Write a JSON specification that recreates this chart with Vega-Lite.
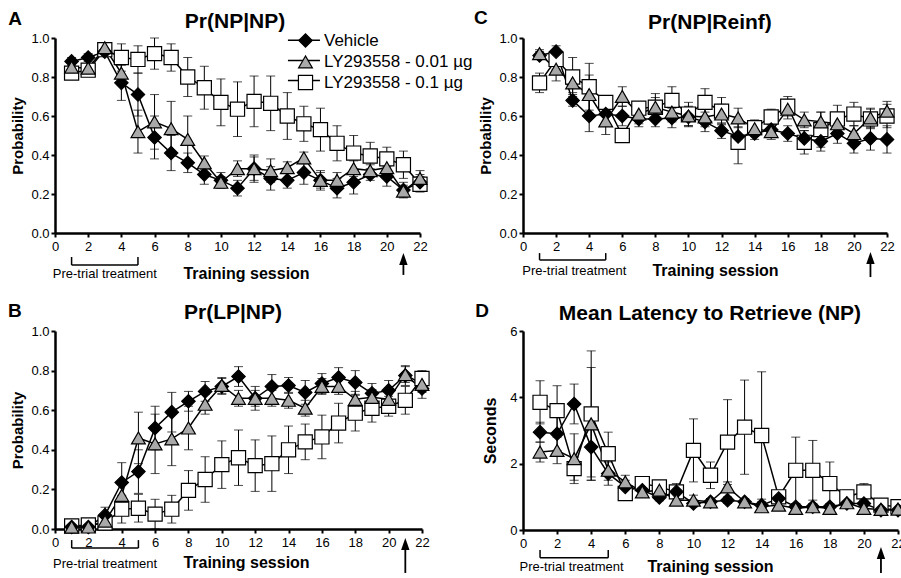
{
"$schema": "https://vega.github.io/schema/vega-lite/v6.json",
"background": "white",
"padding": {"left": 8, "top": 8, "right": 0, "bottom": 0},
"columns": 2,
"bounds": "flush",
"align": "each",
"spacing": {"row": 98, "column": 101},
"resolve": {"scale": {"x": "independent", "y": "independent"}, "axis": {"x": "independent", "y": "independent"}, "legend": {"shape": "independent", "fill": "independent", "size": "independent", "stroke": "independent"}},
"config": {
  "view": {"stroke": null},
  "font": "Liberation Sans",
  "axis": {"domainColor": "black", "domainWidth": 2.5, "tickColor": "black", "tickWidth": 2, "tickSize": 4, "labelColor": "black", "labelFontSize": 13, "labelFont": "Liberation Sans", "titleColor": "black", "titleFont": "Liberation Sans", "titleFontWeight": "bold", "grid": false, "labelPadding": 2, "labelFlush": false, "labelOverlap": false},
  "axisX": {"titleFontSize": 16, "labelAngle": 0, "titleBaseline": "alphabetic", "labelPadding": 3},
  "axisY": {"titleFontSize": 15, "titlePadding": 5},
  "text": {"font": "Liberation Sans", "color": "black"}
},
"datasets": {
"note": [{"note": "annotation"}],
"A": [
{"group":"LY293558 - 0.1 µg","session":1,"value":0.82,"sem":0.02},
{"group":"LY293558 - 0.1 µg","session":2,"value":0.835,"sem":0.02},
{"group":"LY293558 - 0.1 µg","session":3,"value":0.94,"sem":0.03},
{"group":"LY293558 - 0.1 µg","session":4,"value":0.90,"sem":0.07},
{"group":"LY293558 - 0.1 µg","session":5,"value":0.89,"sem":0.07},
{"group":"LY293558 - 0.1 µg","session":6,"value":0.92,"sem":0.08},
{"group":"LY293558 - 0.1 µg","session":7,"value":0.90,"sem":0.07},
{"group":"LY293558 - 0.1 µg","session":8,"value":0.80,"sem":0.10},
{"group":"LY293558 - 0.1 µg","session":9,"value":0.745,"sem":0.11},
{"group":"LY293558 - 0.1 µg","session":10,"value":0.67,"sem":0.12},
{"group":"LY293558 - 0.1 µg","session":11,"value":0.635,"sem":0.14},
{"group":"LY293558 - 0.1 µg","session":12,"value":0.675,"sem":0.13},
{"group":"LY293558 - 0.1 µg","session":13,"value":0.665,"sem":0.14},
{"group":"LY293558 - 0.1 µg","session":14,"value":0.60,"sem":0.12},
{"group":"LY293558 - 0.1 µg","session":15,"value":0.56,"sem":0.09},
{"group":"LY293558 - 0.1 µg","session":16,"value":0.53,"sem":0.11},
{"group":"LY293558 - 0.1 µg","session":17,"value":0.46,"sem":0.09},
{"group":"LY293558 - 0.1 µg","session":18,"value":0.41,"sem":0.09},
{"group":"LY293558 - 0.1 µg","session":19,"value":0.395,"sem":0.07},
{"group":"LY293558 - 0.1 µg","session":20,"value":0.38,"sem":0.06},
{"group":"LY293558 - 0.1 µg","session":21,"value":0.35,"sem":0.07},
{"group":"LY293558 - 0.1 µg","session":22,"value":0.25,"sem":0.04},
{"group":"Vehicle","session":1,"value":0.88,"sem":0.02},
{"group":"Vehicle","session":2,"value":0.90,"sem":0.02},
{"group":"Vehicle","session":3,"value":0.93,"sem":0.02},
{"group":"Vehicle","session":4,"value":0.77,"sem":0.09},
{"group":"Vehicle","session":5,"value":0.71,"sem":0.11},
{"group":"Vehicle","session":6,"value":0.49,"sem":0.11},
{"group":"Vehicle","session":7,"value":0.41,"sem":0.09},
{"group":"Vehicle","session":8,"value":0.36,"sem":0.05},
{"group":"Vehicle","session":9,"value":0.30,"sem":0.05},
{"group":"Vehicle","session":10,"value":0.27,"sem":0.04},
{"group":"Vehicle","session":11,"value":0.23,"sem":0.04},
{"group":"Vehicle","session":12,"value":0.33,"sem":0.06},
{"group":"Vehicle","session":13,"value":0.28,"sem":0.06},
{"group":"Vehicle","session":14,"value":0.27,"sem":0.04},
{"group":"Vehicle","session":15,"value":0.31,"sem":0.06},
{"group":"Vehicle","session":16,"value":0.27,"sem":0.05},
{"group":"Vehicle","session":17,"value":0.23,"sem":0.05},
{"group":"Vehicle","session":18,"value":0.26,"sem":0.06},
{"group":"Vehicle","session":19,"value":0.30,"sem":0.03},
{"group":"Vehicle","session":20,"value":0.29,"sem":0.05},
{"group":"Vehicle","session":21,"value":0.22,"sem":0.04},
{"group":"Vehicle","session":22,"value":0.26,"sem":0.04},
{"group":"LY293558 - 0.01 µg","session":1,"value":0.85,"sem":0.02},
{"group":"LY293558 - 0.01 µg","session":2,"value":0.845,"sem":0.02},
{"group":"LY293558 - 0.01 µg","session":3,"value":0.95,"sem":0.02},
{"group":"LY293558 - 0.01 µg","session":4,"value":0.82,"sem":0.06},
{"group":"LY293558 - 0.01 µg","session":5,"value":0.52,"sem":0.11},
{"group":"LY293558 - 0.01 µg","session":6,"value":0.57,"sem":0.14},
{"group":"LY293558 - 0.01 µg","session":7,"value":0.535,"sem":0.14},
{"group":"LY293558 - 0.01 µg","session":8,"value":0.48,"sem":0.12},
{"group":"LY293558 - 0.01 µg","session":9,"value":0.36,"sem":0.035},
{"group":"LY293558 - 0.01 µg","session":10,"value":0.26,"sem":0.03},
{"group":"LY293558 - 0.01 µg","session":11,"value":0.33,"sem":0.04},
{"group":"LY293558 - 0.01 µg","session":12,"value":0.33,"sem":0.07},
{"group":"LY293558 - 0.01 µg","session":13,"value":0.32,"sem":0.06},
{"group":"LY293558 - 0.01 µg","session":14,"value":0.335,"sem":0.03},
{"group":"LY293558 - 0.01 µg","session":15,"value":0.385,"sem":0.03},
{"group":"LY293558 - 0.01 µg","session":16,"value":0.27,"sem":0.04},
{"group":"LY293558 - 0.01 µg","session":17,"value":0.27,"sem":0.04},
{"group":"LY293558 - 0.01 µg","session":18,"value":0.33,"sem":0.04},
{"group":"LY293558 - 0.01 µg","session":19,"value":0.32,"sem":0.03},
{"group":"LY293558 - 0.01 µg","session":20,"value":0.335,"sem":0.03},
{"group":"LY293558 - 0.01 µg","session":21,"value":0.215,"sem":0.03},
{"group":"LY293558 - 0.01 µg","session":22,"value":0.28,"sem":0.04}
],
"B": [
{"group":"LY293558 - 0.1 µg","session":1,"value":0.015,"sem":0.01},
{"group":"LY293558 - 0.1 µg","session":2,"value":0.02,"sem":0.02},
{"group":"LY293558 - 0.1 µg","session":3,"value":0.03,"sem":0.02},
{"group":"LY293558 - 0.1 µg","session":4,"value":0.10,"sem":0.07},
{"group":"LY293558 - 0.1 µg","session":5,"value":0.105,"sem":0.07},
{"group":"LY293558 - 0.1 µg","session":6,"value":0.075,"sem":0.075},
{"group":"LY293558 - 0.1 µg","session":7,"value":0.10,"sem":0.07},
{"group":"LY293558 - 0.1 µg","session":8,"value":0.195,"sem":0.10},
{"group":"LY293558 - 0.1 µg","session":9,"value":0.25,"sem":0.115},
{"group":"LY293558 - 0.1 µg","session":10,"value":0.325,"sem":0.12},
{"group":"LY293558 - 0.1 µg","session":11,"value":0.36,"sem":0.14},
{"group":"LY293558 - 0.1 µg","session":12,"value":0.32,"sem":0.13},
{"group":"LY293558 - 0.1 µg","session":13,"value":0.33,"sem":0.14},
{"group":"LY293558 - 0.1 µg","session":14,"value":0.40,"sem":0.12},
{"group":"LY293558 - 0.1 µg","session":15,"value":0.44,"sem":0.09},
{"group":"LY293558 - 0.1 µg","session":16,"value":0.465,"sem":0.11},
{"group":"LY293558 - 0.1 µg","session":17,"value":0.535,"sem":0.10},
{"group":"LY293558 - 0.1 µg","session":18,"value":0.585,"sem":0.09},
{"group":"LY293558 - 0.1 µg","session":19,"value":0.61,"sem":0.07},
{"group":"LY293558 - 0.1 µg","session":20,"value":0.62,"sem":0.05},
{"group":"LY293558 - 0.1 µg","session":21,"value":0.65,"sem":0.07},
{"group":"LY293558 - 0.1 µg","session":22,"value":0.76,"sem":0.04},
{"group":"Vehicle","session":1,"value":0.01,"sem":0.01},
{"group":"Vehicle","session":2,"value":0.01,"sem":0.01},
{"group":"Vehicle","session":3,"value":0.07,"sem":0.04},
{"group":"Vehicle","session":4,"value":0.235,"sem":0.10},
{"group":"Vehicle","session":5,"value":0.29,"sem":0.11},
{"group":"Vehicle","session":6,"value":0.51,"sem":0.11},
{"group":"Vehicle","session":7,"value":0.59,"sem":0.10},
{"group":"Vehicle","session":8,"value":0.645,"sem":0.05},
{"group":"Vehicle","session":9,"value":0.695,"sem":0.05},
{"group":"Vehicle","session":10,"value":0.72,"sem":0.04},
{"group":"Vehicle","session":11,"value":0.77,"sem":0.05},
{"group":"Vehicle","session":12,"value":0.66,"sem":0.06},
{"group":"Vehicle","session":13,"value":0.72,"sem":0.06},
{"group":"Vehicle","session":14,"value":0.725,"sem":0.04},
{"group":"Vehicle","session":15,"value":0.69,"sem":0.06},
{"group":"Vehicle","session":16,"value":0.735,"sem":0.05},
{"group":"Vehicle","session":17,"value":0.765,"sem":0.05},
{"group":"Vehicle","session":18,"value":0.74,"sem":0.06},
{"group":"Vehicle","session":19,"value":0.685,"sem":0.05},
{"group":"Vehicle","session":20,"value":0.70,"sem":0.05},
{"group":"Vehicle","session":21,"value":0.775,"sem":0.05},
{"group":"Vehicle","session":22,"value":0.71,"sem":0.05},
{"group":"LY293558 - 0.01 µg","session":1,"value":0.01,"sem":0.02},
{"group":"LY293558 - 0.01 µg","session":2,"value":0.01,"sem":0.02},
{"group":"LY293558 - 0.01 µg","session":3,"value":0.04,"sem":0.02},
{"group":"LY293558 - 0.01 µg","session":4,"value":0.17,"sem":0.07},
{"group":"LY293558 - 0.01 µg","session":5,"value":0.46,"sem":0.13},
{"group":"LY293558 - 0.01 µg","session":6,"value":0.43,"sem":0.15},
{"group":"LY293558 - 0.01 µg","session":7,"value":0.455,"sem":0.135},
{"group":"LY293558 - 0.01 µg","session":8,"value":0.51,"sem":0.11},
{"group":"LY293558 - 0.01 µg","session":9,"value":0.63,"sem":0.05},
{"group":"LY293558 - 0.01 µg","session":10,"value":0.725,"sem":0.04},
{"group":"LY293558 - 0.01 µg","session":11,"value":0.66,"sem":0.04},
{"group":"LY293558 - 0.01 µg","session":12,"value":0.66,"sem":0.04},
{"group":"LY293558 - 0.01 µg","session":13,"value":0.66,"sem":0.04},
{"group":"LY293558 - 0.01 µg","session":14,"value":0.65,"sem":0.04},
{"group":"LY293558 - 0.01 µg","session":15,"value":0.61,"sem":0.04},
{"group":"LY293558 - 0.01 µg","session":16,"value":0.72,"sem":0.04},
{"group":"LY293558 - 0.01 µg","session":17,"value":0.72,"sem":0.04},
{"group":"LY293558 - 0.01 µg","session":18,"value":0.655,"sem":0.04},
{"group":"LY293558 - 0.01 µg","session":19,"value":0.665,"sem":0.04},
{"group":"LY293558 - 0.01 µg","session":20,"value":0.655,"sem":0.04},
{"group":"LY293558 - 0.01 µg","session":21,"value":0.78,"sem":0.04},
{"group":"LY293558 - 0.01 µg","session":22,"value":0.73,"sem":0.04}
],
"C": [
{"group":"LY293558 - 0.1 µg","session":1,"value":0.77,"sem":0.05},
{"group":"LY293558 - 0.1 µg","session":2,"value":0.89,"sem":0.05},
{"group":"LY293558 - 0.1 µg","session":3,"value":0.80,"sem":0.10},
{"group":"LY293558 - 0.1 µg","session":4,"value":0.75,"sem":0.12},
{"group":"LY293558 - 0.1 µg","session":5,"value":0.67,"sem":0.03},
{"group":"LY293558 - 0.1 µg","session":6,"value":0.50,"sem":0.03},
{"group":"LY293558 - 0.1 µg","session":7,"value":0.64,"sem":0.03},
{"group":"LY293558 - 0.1 µg","session":8,"value":0.645,"sem":0.07},
{"group":"LY293558 - 0.1 µg","session":9,"value":0.68,"sem":0.07},
{"group":"LY293558 - 0.1 µg","session":10,"value":0.61,"sem":0.06},
{"group":"LY293558 - 0.1 µg","session":11,"value":0.67,"sem":0.07},
{"group":"LY293558 - 0.1 µg","session":12,"value":0.625,"sem":0.07},
{"group":"LY293558 - 0.1 µg","session":13,"value":0.465,"sem":0.11},
{"group":"LY293558 - 0.1 µg","session":14,"value":0.54,"sem":0.04},
{"group":"LY293558 - 0.1 µg","session":15,"value":0.595,"sem":0.04},
{"group":"LY293558 - 0.1 µg","session":16,"value":0.65,"sem":0.05},
{"group":"LY293558 - 0.1 µg","session":17,"value":0.465,"sem":0.06},
{"group":"LY293558 - 0.1 µg","session":18,"value":0.53,"sem":0.09},
{"group":"LY293558 - 0.1 µg","session":19,"value":0.585,"sem":0.07},
{"group":"LY293558 - 0.1 µg","session":20,"value":0.61,"sem":0.06},
{"group":"LY293558 - 0.1 µg","session":21,"value":0.585,"sem":0.05},
{"group":"LY293558 - 0.1 µg","session":22,"value":0.60,"sem":0.06},
{"group":"Vehicle","session":1,"value":0.91,"sem":0.02},
{"group":"Vehicle","session":2,"value":0.93,"sem":0.03},
{"group":"Vehicle","session":3,"value":0.68,"sem":0.03},
{"group":"Vehicle","session":4,"value":0.60,"sem":0.08},
{"group":"Vehicle","session":5,"value":0.61,"sem":0.05},
{"group":"Vehicle","session":6,"value":0.60,"sem":0.05},
{"group":"Vehicle","session":7,"value":0.585,"sem":0.04},
{"group":"Vehicle","session":8,"value":0.585,"sem":0.04},
{"group":"Vehicle","session":9,"value":0.59,"sem":0.05},
{"group":"Vehicle","session":10,"value":0.595,"sem":0.05},
{"group":"Vehicle","session":11,"value":0.57,"sem":0.05},
{"group":"Vehicle","session":12,"value":0.525,"sem":0.04},
{"group":"Vehicle","session":13,"value":0.495,"sem":0.05},
{"group":"Vehicle","session":14,"value":0.51,"sem":0.03},
{"group":"Vehicle","session":15,"value":0.53,"sem":0.04},
{"group":"Vehicle","session":16,"value":0.51,"sem":0.04},
{"group":"Vehicle","session":17,"value":0.485,"sem":0.04},
{"group":"Vehicle","session":18,"value":0.47,"sem":0.05},
{"group":"Vehicle","session":19,"value":0.51,"sem":0.05},
{"group":"Vehicle","session":20,"value":0.46,"sem":0.05},
{"group":"Vehicle","session":21,"value":0.485,"sem":0.06},
{"group":"Vehicle","session":22,"value":0.48,"sem":0.07},
{"group":"LY293558 - 0.01 µg","session":1,"value":0.92,"sem":0.02},
{"group":"LY293558 - 0.01 µg","session":2,"value":0.84,"sem":0.06},
{"group":"LY293558 - 0.01 µg","session":3,"value":0.77,"sem":0.05},
{"group":"LY293558 - 0.01 µg","session":4,"value":0.71,"sem":0.10},
{"group":"LY293558 - 0.01 µg","session":5,"value":0.575,"sem":0.07},
{"group":"LY293558 - 0.01 µg","session":6,"value":0.70,"sem":0.05},
{"group":"LY293558 - 0.01 µg","session":7,"value":0.61,"sem":0.05},
{"group":"LY293558 - 0.01 µg","session":8,"value":0.645,"sem":0.05},
{"group":"LY293558 - 0.01 µg","session":9,"value":0.62,"sem":0.05},
{"group":"LY293558 - 0.01 µg","session":10,"value":0.60,"sem":0.05},
{"group":"LY293558 - 0.01 µg","session":11,"value":0.595,"sem":0.05},
{"group":"LY293558 - 0.01 µg","session":12,"value":0.61,"sem":0.05},
{"group":"LY293558 - 0.01 µg","session":13,"value":0.59,"sem":0.05},
{"group":"LY293558 - 0.01 µg","session":14,"value":0.535,"sem":0.04},
{"group":"LY293558 - 0.01 µg","session":15,"value":0.52,"sem":0.04},
{"group":"LY293558 - 0.01 µg","session":16,"value":0.635,"sem":0.05},
{"group":"LY293558 - 0.01 µg","session":17,"value":0.58,"sem":0.04},
{"group":"LY293558 - 0.01 µg","session":18,"value":0.57,"sem":0.05},
{"group":"LY293558 - 0.01 µg","session":19,"value":0.56,"sem":0.04},
{"group":"LY293558 - 0.01 µg","session":20,"value":0.51,"sem":0.04},
{"group":"LY293558 - 0.01 µg","session":21,"value":0.59,"sem":0.05},
{"group":"LY293558 - 0.01 µg","session":22,"value":0.625,"sem":0.05}
],
"D": [
{"group":"LY293558 - 0.1 µg","session":1,"value":3.85,"sem":0.65},
{"group":"LY293558 - 0.1 µg","session":2,"value":3.6,"sem":0.75},
{"group":"LY293558 - 0.1 µg","session":3,"value":1.85,"sem":0.35},
{"group":"LY293558 - 0.1 µg","session":4,"value":3.5,"sem":1.9},
{"group":"LY293558 - 0.1 µg","session":5,"value":2.3,"sem":0.65},
{"group":"LY293558 - 0.1 µg","session":6,"value":1.1,"sem":0.2},
{"group":"LY293558 - 0.1 µg","session":7,"value":1.4,"sem":0.1},
{"group":"LY293558 - 0.1 µg","session":8,"value":1.3,"sem":0.15},
{"group":"LY293558 - 0.1 µg","session":9,"value":1.15,"sem":0.25},
{"group":"LY293558 - 0.1 µg","session":10,"value":2.4,"sem":0.95},
{"group":"LY293558 - 0.1 µg","session":11,"value":1.65,"sem":0.4},
{"group":"LY293558 - 0.1 µg","session":12,"value":2.65,"sem":1.28},
{"group":"LY293558 - 0.1 µg","session":13,"value":3.1,"sem":1.42},
{"group":"LY293558 - 0.1 µg","session":14,"value":2.85,"sem":1.92},
{"group":"LY293558 - 0.1 µg","session":15,"value":1.0,"sem":0.1},
{"group":"LY293558 - 0.1 µg","session":16,"value":1.8,"sem":1.0},
{"group":"LY293558 - 0.1 µg","session":17,"value":1.8,"sem":0.9},
{"group":"LY293558 - 0.1 µg","session":18,"value":1.4,"sem":0.65},
{"group":"LY293558 - 0.1 µg","session":19,"value":1.0,"sem":0.2},
{"group":"LY293558 - 0.1 µg","session":20,"value":1.15,"sem":0.25},
{"group":"LY293558 - 0.1 µg","session":21,"value":0.75,"sem":0.1},
{"group":"LY293558 - 0.1 µg","session":22,"value":0.7,"sem":0.1},
{"group":"Vehicle","session":1,"value":2.95,"sem":0.3},
{"group":"Vehicle","session":2,"value":2.9,"sem":0.5},
{"group":"Vehicle","session":3,"value":3.8,"sem":0.6},
{"group":"Vehicle","session":4,"value":2.5,"sem":1.0},
{"group":"Vehicle","session":5,"value":1.7,"sem":0.35},
{"group":"Vehicle","session":6,"value":1.3,"sem":0.2},
{"group":"Vehicle","session":7,"value":1.2,"sem":0.15},
{"group":"Vehicle","session":8,"value":0.98,"sem":0.1},
{"group":"Vehicle","session":9,"value":1.15,"sem":0.15},
{"group":"Vehicle","session":10,"value":0.8,"sem":0.1},
{"group":"Vehicle","session":11,"value":0.85,"sem":0.1},
{"group":"Vehicle","session":12,"value":0.9,"sem":0.1},
{"group":"Vehicle","session":13,"value":0.85,"sem":0.1},
{"group":"Vehicle","session":14,"value":0.75,"sem":0.1},
{"group":"Vehicle","session":15,"value":0.95,"sem":0.1},
{"group":"Vehicle","session":16,"value":0.7,"sem":0.1},
{"group":"Vehicle","session":17,"value":0.7,"sem":0.1},
{"group":"Vehicle","session":18,"value":0.7,"sem":0.1},
{"group":"Vehicle","session":19,"value":0.8,"sem":0.1},
{"group":"Vehicle","session":20,"value":0.8,"sem":0.1},
{"group":"Vehicle","session":21,"value":0.6,"sem":0.05},
{"group":"Vehicle","session":22,"value":0.6,"sem":0.05},
{"group":"LY293558 - 0.01 µg","session":1,"value":2.35,"sem":0.3},
{"group":"LY293558 - 0.01 µg","session":2,"value":2.4,"sem":0.4},
{"group":"LY293558 - 0.01 µg","session":3,"value":2.15,"sem":0.75},
{"group":"LY293558 - 0.01 µg","session":4,"value":3.2,"sem":1.7},
{"group":"LY293558 - 0.01 µg","session":5,"value":1.8,"sem":0.3},
{"group":"LY293558 - 0.01 µg","session":6,"value":1.45,"sem":0.2},
{"group":"LY293558 - 0.01 µg","session":7,"value":1.15,"sem":0.1},
{"group":"LY293558 - 0.01 µg","session":8,"value":1.2,"sem":0.1},
{"group":"LY293558 - 0.01 µg","session":9,"value":0.9,"sem":0.1},
{"group":"LY293558 - 0.01 µg","session":10,"value":0.9,"sem":0.15},
{"group":"LY293558 - 0.01 µg","session":11,"value":0.85,"sem":0.1},
{"group":"LY293558 - 0.01 µg","session":12,"value":1.3,"sem":0.15},
{"group":"LY293558 - 0.01 µg","session":13,"value":0.85,"sem":0.1},
{"group":"LY293558 - 0.01 µg","session":14,"value":0.7,"sem":0.08},
{"group":"LY293558 - 0.01 µg","session":15,"value":0.75,"sem":0.08},
{"group":"LY293558 - 0.01 µg","session":16,"value":0.65,"sem":0.08},
{"group":"LY293558 - 0.01 µg","session":17,"value":0.7,"sem":0.08},
{"group":"LY293558 - 0.01 µg","session":18,"value":0.65,"sem":0.08},
{"group":"LY293558 - 0.01 µg","session":19,"value":0.82,"sem":0.08},
{"group":"LY293558 - 0.01 µg","session":20,"value":0.65,"sem":0.1},
{"group":"LY293558 - 0.01 µg","session":21,"value":0.62,"sem":0.08},
{"group":"LY293558 - 0.01 µg","session":22,"value":0.63,"sem":0.08}
]
},
"concat": [
{
  "width": 365, "height": 195,
  "layer": [
    {"data": {"name": "A"}, "mark": {"type": "errorbar", "ticks": {"size": 9}, "color": "black"},
     "encoding": {
      "x": {"field": "session", "type": "quantitative", "scale": {"domain": [0, 22], "nice": false}, "axis": {"values": [0,2,4,6,8,10,12,14,16,18,20,22], "tickCount": 30, "title": "Training session", "titleX": 191, "titleY": 45}},
      "y": {"field": "value", "type": "quantitative", "scale": {"domain": [0, 1], "nice": false}, "axis": {"values": [0,0.2,0.4,0.6,0.8,1], "tickCount": 20, "format": ".1f", "title": "Probability"}},
      "yError": {"field": "sem"}}},
    {"data": {"name": "A"}, "mark": {"type": "line", "color": "black", "strokeWidth": 1.5}, "encoding": {"x": {"field": "session", "type": "quantitative"}, "y": {"field": "value", "type": "quantitative"}, "detail": {"field": "group"}}},
    {"data": {"name": "note"}, "mark": {"type": "rule", "color": "black", "strokeWidth": 1.5, "clip": false}, "encoding": {"x": {"datum": 14.04}, "x2": {"datum": 15.97}, "y": {"datum": 0.988}}},
    {"data": {"name": "note"}, "mark": {"type": "rule", "color": "black", "strokeWidth": 1.5, "clip": false}, "encoding": {"x": {"datum": 14.04}, "x2": {"datum": 15.97}, "y": {"datum": 0.885}}},
    {"data": {"name": "note"}, "mark": {"type": "rule", "color": "black", "strokeWidth": 1.5, "clip": false}, "encoding": {"x": {"datum": 14.04}, "x2": {"datum": 15.97}, "y": {"datum": 0.782}}},
    {"data": {"name": "A"}, "mark": {"type": "point", "filled": true, "opacity": 1, "stroke": "black", "strokeWidth": 1.2},
     "encoding": {
      "x": {"field": "session", "type": "quantitative"}, "y": {"field": "value", "type": "quantitative"},
      "shape": {"field": "group", "type": "nominal", "scale": {"domain": ["Vehicle","LY293558 - 0.01 µg","LY293558 - 0.1 µg"], "range": ["diamond","triangle-up","square"]},
        "legend": {"title": null, "orient": "none", "legendX": 242, "legendY": -6, "labelFontSize": 17, "labelFont": "Liberation Sans", "labelColor": "black", "labelOffset": 10, "rowPadding": 2.5, "padding": 0, "labelLimit": 400, "symbolStrokeWidth": 1.2, "symbolOpacity": 1}},
      "fill": {"field": "group", "type": "nominal", "scale": {"domain": ["Vehicle","LY293558 - 0.01 µg","LY293558 - 0.1 µg"], "range": ["black","#a9a9a9","white"]},
        "legend": {"title": null, "orient": "none", "legendX": 242, "legendY": -6, "labelFontSize": 17, "labelFont": "Liberation Sans", "labelColor": "black", "labelOffset": 10, "rowPadding": 2.5, "padding": 0, "labelLimit": 400, "symbolStrokeWidth": 1.2, "symbolOpacity": 1}},
      "stroke": {"field": "group", "type": "nominal", "scale": {"domain": ["Vehicle","LY293558 - 0.01 µg","LY293558 - 0.1 µg"], "range": ["black","black","black"]},
        "legend": {"title": null, "orient": "none", "legendX": 242, "legendY": -6, "labelFontSize": 17, "labelFont": "Liberation Sans", "labelColor": "black", "labelOffset": 10, "rowPadding": 2.5, "padding": 0, "labelLimit": 400, "symbolStrokeWidth": 1.2, "symbolOpacity": 1}},
      "size": {"field": "group", "type": "nominal", "scale": {"domain": ["Vehicle","LY293558 - 0.01 µg","LY293558 - 0.1 µg"], "range": [180,200,160]},
        "legend": {"title": null, "orient": "none", "legendX": 242, "legendY": -6, "labelFontSize": 17, "labelFont": "Liberation Sans", "labelColor": "black", "labelOffset": 10, "rowPadding": 2.5, "padding": 0, "labelLimit": 400, "symbolStrokeWidth": 1.2, "symbolOpacity": 1}}
    }},
    {"data": {"name": "note"}, "mark": {"type": "text", "fontSize": 19, "fontWeight": "bold", "align": "center", "baseline": "middle", "clip": false}, "encoding": {"x": {"datum": -2.41}, "y": {"datum": 1.097}, "text": {"value": "A"}}},
    {"data": {"name": "note"}, "mark": {"type": "text", "fontSize": 21, "fontWeight": "bold", "align": "center", "baseline": "alphabetic", "clip": false}, "encoding": {"x": {"datum": 10.85}, "y": {"datum": 1.051}, "text": {"value": "Pr(NP|NP)"}}},
    {"data": {"name": "note"}, "mark": {"type": "rule", "color": "black", "strokeWidth": 1.5, "clip": false}, "encoding": {"x": {"datum": 1}, "x2": {"datum": 5}, "y": {"datum": -0.164}}},
    {"data": {"name": "note"}, "mark": {"type": "rule", "color": "black", "strokeWidth": 1.5, "clip": false}, "encoding": {"x": {"datum": 1}, "y": {"datum": -0.164}, "y2": {"datum": -0.123}}},
    {"data": {"name": "note"}, "mark": {"type": "rule", "color": "black", "strokeWidth": 1.5, "clip": false}, "encoding": {"x": {"datum": 5}, "y": {"datum": -0.164}, "y2": {"datum": -0.123}}},
    {"data": {"name": "note"}, "mark": {"type": "text", "fontSize": 13, "align": "center", "baseline": "middle", "clip": false}, "encoding": {"x": {"datum": 3}, "y": {"datum": -0.21}, "text": {"value": "Pre-trial treatment"}}},
    {"data": {"name": "note"}, "mark": {"type": "rule", "color": "black", "strokeWidth": 1.8, "clip": false}, "encoding": {"x": {"datum": 21}, "y": {"datum": -0.133}, "y2": {"datum": -0.215}}},
    {"data": {"name": "note"}, "mark": {"type": "point", "shape": "M0,-1L0.7,1L-0.7,1Z", "size": 144, "filled": true, "color": "black", "opacity": 1, "clip": false}, "encoding": {"x": {"datum": 21}, "y": {"datum": -0.133}}}
  ]
},
{
  "width": 364, "height": 195,
  "layer": [
    {"data": {"name": "C"}, "mark": {"type": "errorbar", "ticks": {"size": 9}, "color": "black"},
     "encoding": {
      "x": {"field": "session", "type": "quantitative", "scale": {"domain": [0, 22], "nice": false}, "axis": {"values": [0,2,4,6,8,10,12,14,16,18,20,22], "tickCount": 30, "title": "Training session", "titleX": 192, "titleY": 42}},
      "y": {"field": "value", "type": "quantitative", "scale": {"domain": [0, 1], "nice": false}, "axis": {"values": [0,0.2,0.4,0.6,0.8,1], "tickCount": 20, "format": ".1f", "title": "Probability"}},
      "yError": {"field": "sem"}}},
    {"data": {"name": "C"}, "mark": {"type": "line", "color": "black", "strokeWidth": 1.5}, "encoding": {"x": {"field": "session", "type": "quantitative"}, "y": {"field": "value", "type": "quantitative"}, "detail": {"field": "group"}}},
    {"data": {"name": "C"}, "mark": {"type": "point", "filled": true, "opacity": 1, "stroke": "black", "strokeWidth": 1.2},
     "encoding": {
      "x": {"field": "session", "type": "quantitative"}, "y": {"field": "value", "type": "quantitative"},
      "shape": {"field": "group", "type": "nominal", "scale": {"domain": ["Vehicle","LY293558 - 0.01 µg","LY293558 - 0.1 µg"], "range": ["diamond","triangle-up","square"]}, "legend": null},
      "fill": {"field": "group", "type": "nominal", "scale": {"domain": ["Vehicle","LY293558 - 0.01 µg","LY293558 - 0.1 µg"], "range": ["black","#a9a9a9","white"]}, "legend": null},
      "size": {"field": "group", "type": "nominal", "scale": {"domain": ["Vehicle","LY293558 - 0.01 µg","LY293558 - 0.1 µg"], "range": [180,200,160]}, "legend": null}
    }},
    {"data": {"name": "note"}, "mark": {"type": "text", "fontSize": 19, "fontWeight": "bold", "align": "center", "baseline": "middle", "clip": false}, "encoding": {"x": {"datum": -2.54}, "y": {"datum": 1.103}, "text": {"value": "C"}}},
    {"data": {"name": "note"}, "mark": {"type": "text", "fontSize": 21, "fontWeight": "bold", "align": "center", "baseline": "alphabetic", "clip": false}, "encoding": {"x": {"datum": 11.3}, "y": {"datum": 1.046}, "text": {"value": "Pr(NP|Reinf)"}}},
    {"data": {"name": "note"}, "mark": {"type": "rule", "color": "black", "strokeWidth": 1.5, "clip": false}, "encoding": {"x": {"datum": 1}, "x2": {"datum": 5}, "y": {"datum": -0.138}}},
    {"data": {"name": "note"}, "mark": {"type": "rule", "color": "black", "strokeWidth": 1.5, "clip": false}, "encoding": {"x": {"datum": 1}, "y": {"datum": -0.138}, "y2": {"datum": -0.103}}},
    {"data": {"name": "note"}, "mark": {"type": "rule", "color": "black", "strokeWidth": 1.5, "clip": false}, "encoding": {"x": {"datum": 5}, "y": {"datum": -0.138}, "y2": {"datum": -0.103}}},
    {"data": {"name": "note"}, "mark": {"type": "text", "fontSize": 13, "align": "center", "baseline": "middle", "clip": false}, "encoding": {"x": {"datum": 3.1}, "y": {"datum": -0.195}, "text": {"value": "Pre-trial treatment"}}},
    {"data": {"name": "note"}, "mark": {"type": "rule", "color": "black", "strokeWidth": 1.8, "clip": false}, "encoding": {"x": {"datum": 21}, "y": {"datum": -0.128}, "y2": {"datum": -0.226}}},
    {"data": {"name": "note"}, "mark": {"type": "point", "shape": "M0,-1L0.7,1L-0.7,1Z", "size": 144, "filled": true, "color": "black", "opacity": 1, "clip": false}, "encoding": {"x": {"datum": 21}, "y": {"datum": -0.128}}}
  ]
},
{
  "width": 367, "height": 198,
  "layer": [
    {"data": {"name": "B"}, "mark": {"type": "errorbar", "ticks": {"size": 9}, "color": "black"},
     "encoding": {
      "x": {"field": "session", "type": "quantitative", "scale": {"domain": [0, 22], "nice": false}, "axis": {"values": [0,2,4,6,8,10,12,14,16,18,20,22], "tickCount": 30, "title": "Training session", "titleX": 191, "titleY": 38}},
      "y": {"field": "value", "type": "quantitative", "scale": {"domain": [0, 1], "nice": false}, "axis": {"values": [0,0.2,0.4,0.6,0.8,1], "tickCount": 20, "format": ".1f", "title": "Probability"}},
      "yError": {"field": "sem"}}},
    {"data": {"name": "B"}, "mark": {"type": "line", "color": "black", "strokeWidth": 1.5}, "encoding": {"x": {"field": "session", "type": "quantitative"}, "y": {"field": "value", "type": "quantitative"}, "detail": {"field": "group"}}},
    {"data": {"name": "B"}, "mark": {"type": "point", "filled": true, "opacity": 1, "stroke": "black", "strokeWidth": 1.2},
     "encoding": {
      "x": {"field": "session", "type": "quantitative"}, "y": {"field": "value", "type": "quantitative"},
      "shape": {"field": "group", "type": "nominal", "scale": {"domain": ["Vehicle","LY293558 - 0.01 µg","LY293558 - 0.1 µg"], "range": ["diamond","triangle-up","square"]}, "legend": null},
      "fill": {"field": "group", "type": "nominal", "scale": {"domain": ["Vehicle","LY293558 - 0.01 µg","LY293558 - 0.1 µg"], "range": ["black","#a9a9a9","white"]}, "legend": null},
      "size": {"field": "group", "type": "nominal", "scale": {"domain": ["Vehicle","LY293558 - 0.01 µg","LY293558 - 0.1 µg"], "range": [180,200,160]}, "legend": null}
    }},
    {"data": {"name": "note"}, "mark": {"type": "text", "fontSize": 19, "fontWeight": "bold", "align": "center", "baseline": "middle", "clip": false}, "encoding": {"x": {"datum": -2.4}, "y": {"datum": 1.101}, "text": {"value": "B"}}},
    {"data": {"name": "note"}, "mark": {"type": "text", "fontSize": 21, "fontWeight": "bold", "align": "center", "baseline": "alphabetic", "clip": false}, "encoding": {"x": {"datum": 10.67}, "y": {"datum": 1.061}, "text": {"value": "Pr(LP|NP)"}}},
    {"data": {"name": "note"}, "mark": {"type": "rule", "color": "black", "strokeWidth": 1.5, "clip": false}, "encoding": {"x": {"datum": 1}, "x2": {"datum": 5}, "y": {"datum": -0.096}}},
    {"data": {"name": "note"}, "mark": {"type": "rule", "color": "black", "strokeWidth": 1.5, "clip": false}, "encoding": {"x": {"datum": 1}, "y": {"datum": -0.096}, "y2": {"datum": -0.056}}},
    {"data": {"name": "note"}, "mark": {"type": "rule", "color": "black", "strokeWidth": 1.5, "clip": false}, "encoding": {"x": {"datum": 5}, "y": {"datum": -0.096}, "y2": {"datum": -0.056}}},
    {"data": {"name": "note"}, "mark": {"type": "text", "fontSize": 13, "align": "center", "baseline": "middle", "clip": false}, "encoding": {"x": {"datum": 3}, "y": {"datum": -0.177}, "text": {"value": "Pre-trial treatment"}}},
    {"data": {"name": "note"}, "mark": {"type": "rule", "color": "black", "strokeWidth": 1.8, "clip": false}, "encoding": {"x": {"datum": 21}, "y": {"datum": -0.076}, "y2": {"datum": -0.222}}},
    {"data": {"name": "note"}, "mark": {"type": "point", "shape": "M0,-1L0.7,1L-0.7,1Z", "size": 144, "filled": true, "color": "black", "opacity": 1, "clip": false}, "encoding": {"x": {"datum": 21}, "y": {"datum": -0.076}}}
  ]
},
{
  "width": 375, "height": 199,
  "layer": [
    {"data": {"name": "D"}, "mark": {"type": "errorbar", "ticks": {"size": 9}, "color": "black"},
     "encoding": {
      "x": {"field": "session", "type": "quantitative", "scale": {"domain": [0, 22], "nice": false}, "axis": {"values": [0,2,4,6,8,10,12,14,16,18,20,22], "tickCount": 30, "title": "Training session", "titleX": 187, "titleY": 41}},
      "y": {"field": "value", "type": "quantitative", "scale": {"domain": [0, 6], "nice": false}, "axis": {"values": [0,2,4,6], "tickCount": 20, "format": "d", "title": "Seconds", "titleFontSize": 16, "titlePadding": 11}},
      "yError": {"field": "sem"}}},
    {"data": {"name": "D"}, "mark": {"type": "line", "color": "black", "strokeWidth": 1.5}, "encoding": {"x": {"field": "session", "type": "quantitative"}, "y": {"field": "value", "type": "quantitative"}, "detail": {"field": "group"}}},
    {"data": {"name": "D"}, "mark": {"type": "point", "filled": true, "opacity": 1, "stroke": "black", "strokeWidth": 1.2},
     "encoding": {
      "x": {"field": "session", "type": "quantitative"}, "y": {"field": "value", "type": "quantitative"},
      "shape": {"field": "group", "type": "nominal", "scale": {"domain": ["Vehicle","LY293558 - 0.01 µg","LY293558 - 0.1 µg"], "range": ["diamond","triangle-up","square"]}, "legend": null},
      "fill": {"field": "group", "type": "nominal", "scale": {"domain": ["Vehicle","LY293558 - 0.01 µg","LY293558 - 0.1 µg"], "range": ["black","#a9a9a9","white"]}, "legend": null},
      "size": {"field": "group", "type": "nominal", "scale": {"domain": ["Vehicle","LY293558 - 0.01 µg","LY293558 - 0.1 µg"], "range": [180,200,160]}, "legend": null}
    }},
    {"data": {"name": "note"}, "mark": {"type": "text", "fontSize": 19, "fontWeight": "bold", "align": "center", "baseline": "middle", "clip": false}, "encoding": {"x": {"datum": -2.4}, "y": {"datum": 6.6}, "text": {"value": "D"}}},
    {"data": {"name": "note"}, "mark": {"type": "text", "fontSize": 21, "fontWeight": "bold", "align": "center", "baseline": "alphabetic", "clip": false}, "encoding": {"x": {"datum": 10.97}, "y": {"datum": 6.33}, "text": {"value": "Mean Latency to Retrieve (NP)"}}},
    {"data": {"name": "note"}, "mark": {"type": "rule", "color": "black", "strokeWidth": 1.5, "clip": false}, "encoding": {"x": {"datum": 1}, "x2": {"datum": 5}, "y": {"datum": -0.84}}},
    {"data": {"name": "note"}, "mark": {"type": "rule", "color": "black", "strokeWidth": 1.5, "clip": false}, "encoding": {"x": {"datum": 1}, "y": {"datum": -0.84}, "y2": {"datum": -0.6}}},
    {"data": {"name": "note"}, "mark": {"type": "rule", "color": "black", "strokeWidth": 1.5, "clip": false}, "encoding": {"x": {"datum": 5}, "y": {"datum": -0.84}, "y2": {"datum": -0.6}}},
    {"data": {"name": "note"}, "mark": {"type": "text", "fontSize": 13, "align": "center", "baseline": "middle", "clip": false}, "encoding": {"x": {"datum": 2.85}, "y": {"datum": -1.12}, "text": {"value": "Pre-trial treatment"}}},
    {"data": {"name": "note"}, "mark": {"type": "rule", "color": "black", "strokeWidth": 1.8, "clip": false}, "encoding": {"x": {"datum": 21}, "y": {"datum": -0.69}, "y2": {"datum": -1.3}}},
    {"data": {"name": "note"}, "mark": {"type": "point", "shape": "M0,-1L0.7,1L-0.7,1Z", "size": 144, "filled": true, "color": "black", "opacity": 1, "clip": false}, "encoding": {"x": {"datum": 21}, "y": {"datum": -0.69}}}
  ]
}
]
}
